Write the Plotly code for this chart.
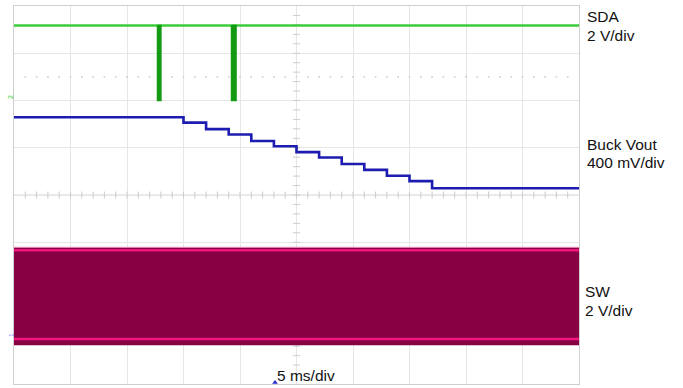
import plotly.graph_objects as go

# ---------------------------------------
# scope settings / data (time in ms, 5 ms/div, 10 div)
# ---------------------------------------

t_end = 50.0

# SDA: 2 V/div, ground at +2.06 div
sda_scale = 2.0
sda_offset = 2.06
sda_high = 3.05
sda_low = -0.12
sda_burst_start = [12.70, 19.25]
sda_burst_end = [13.00, 19.65]

# Buck Vout: 400 mV/div
vout_scale = 0.4
vout_offset = -1.356
vout_step_times = [0.0, 15.0, 17.0, 19.0, 21.0, 23.0, 25.0, 27.0, 29.0, 31.0, 33.0, 35.0, 37.0]
vout_levels = [1.20, 1.155, 1.10, 1.055, 1.00, 0.955, 0.905, 0.86, 0.805, 0.755, 0.705, 0.66, 0.60]

# SW: 2 V/div, ground at -2.98 div
sw_scale = 2.0
sw_offset = -2.98
sw_peak_high = 3.75
sw_high = 3.62
sw_low = -0.14
sw_peak_low = -0.40


def to_div(v, scale, offset):
    return v / scale + offset


fig = go.Figure()

# graticule: center ticks and trigger-level dots
tick_t = [i * 1.0 for i in range(1, 50)]
fig.add_trace(go.Scatter(
    x=tick_t, y=[0] * len(tick_t), mode="markers",
    marker=dict(symbol="line-ns", size=5, line=dict(color="#cccccc", width=1)),
    hoverinfo="skip"
))
tick_y = [i * 0.2 - 4 for i in range(1, 40)]
fig.add_trace(go.Scatter(
    x=[25] * len(tick_y), y=tick_y, mode="markers",
    marker=dict(symbol="line-ew", size=5, line=dict(color="#cccccc", width=1)),
    hoverinfo="skip"
))
fig.add_trace(go.Scatter(
    x=tick_t, y=[2.5] * len(tick_t), mode="markers",
    marker=dict(symbol="square", size=1.6, color="#cfcfcf"),
    hoverinfo="skip"
))

# SW switching band
fig.add_trace(go.Scatter(
    x=[0, t_end], y=[to_div(sw_peak_low, sw_scale, sw_offset)] * 2,
    mode="lines", line=dict(color="#8a0a48", width=0), hoverinfo="skip"
))
fig.add_trace(go.Scatter(
    x=[0, t_end], y=[to_div(sw_peak_high, sw_scale, sw_offset)] * 2,
    mode="lines", line=dict(color="#f2a0c8", width=1),
    fill="tonexty", fillcolor="#880044", hoverinfo="skip"
))
for lvl in [sw_high, sw_low]:
    fig.add_trace(go.Scatter(
        x=[0, t_end], y=[to_div(lvl, sw_scale, sw_offset)] * 2,
        mode="lines", line=dict(color="#f0157f", width=2.5), hoverinfo="skip"
    ))

# Buck Vout staircase
vx = vout_step_times + [t_end]
vy = [to_div(v, vout_scale, vout_offset) for v in vout_levels]
vy = vy + [vy[-1]]
fig.add_trace(go.Scatter(
    x=vx, y=vy, mode="lines", line=dict(color="#1c1cb0", width=2.6, shape="hv"),
    hoverinfo="skip"
))

# SDA
hi = to_div(sda_high, sda_scale, sda_offset)
lo = to_div(sda_low, sda_scale, sda_offset)
fig.add_trace(go.Scatter(
    x=[0, t_end], y=[hi, hi], mode="lines",
    line=dict(color="#3acc3a", width=2.5), hoverinfo="skip"
))
for s, e in zip(sda_burst_start, sda_burst_end):
    fig.add_trace(go.Scatter(
        x=[s, s, e, e, s], y=[hi, lo, lo, hi, hi], mode="lines",
        line=dict(color="#139a13", width=1.5), fill="toself", fillcolor="#139a13",
        hoverinfo="skip"
    ))

# channel markers
fig.add_trace(go.Scatter(
    x=[t_end + 0.25], y=[1.206], mode="markers", cliponaxis=False,
    marker=dict(symbol="triangle-left", size=5, color="#2a2ad0"), hoverinfo="skip"
))
fig.add_trace(go.Scatter(
    x=[23.1], y=[-3.97], mode="markers", cliponaxis=False,
    marker=dict(symbol="triangle-up", size=5, color="#2a2ad0"), hoverinfo="skip"
))

fig.add_shape(type="line", x0=25, x1=25, y0=-4, y1=4, line=dict(color="#d6d6d6", width=1), layer="below")
fig.add_shape(type="line", x0=0, x1=t_end, y0=0, y1=0, line=dict(color="#d6d6d6", width=1), layer="below")

labels = [
    ("SDA", 585, 17),
    ("2 V/div", 585, 35),
    ("Buck Vout", 585, 145),
    ("400 mV/div", 585, 162.5),
    ("SW", 583, 291),
    ("2 V/div", 583, 310),
]
for txt, px, py in labels:
    fig.add_annotation(
        text=txt, xref="paper", yref="paper",
        x=(px - 14) / 565, y=1 - (py - 6) / 378,
        xanchor="left", yanchor="middle", showarrow=False,
        font=dict(size=15.5, color="#111111")
    )
fig.add_annotation(
    text="5 ms/div", xref="paper", yref="paper",
    x=(306 - 14) / 565, y=1 - (375.5 - 6) / 378,
    xanchor="center", yanchor="middle", showarrow=False,
    font=dict(size=15.5, color="#111111")
)
fig.add_annotation(
    text="2", xref="paper", yref="paper", x=(11 - 14) / 565, y=1 - (97 - 6) / 378,
    xanchor="center", yanchor="middle", showarrow=False, textangle=-90,
    font=dict(size=7, color="#33cc33")
)
fig.add_annotation(
    text="1", xref="paper", yref="paper", x=(11 - 14) / 565, y=1 - (335 - 6) / 378,
    xanchor="center", yanchor="middle", showarrow=False, textangle=-90,
    font=dict(size=7, color="#7a7aff")
)

fig.update_layout(
    width=683,
    height=388,
    paper_bgcolor="white",
    plot_bgcolor="white",
    showlegend=False,
    margin=dict(l=14, r=104, t=6, b=4),
    font=dict(family="Liberation Sans, Arial, sans-serif"),
    xaxis=dict(
        range=[0, t_end], dtick=5, tick0=0, showgrid=True, gridcolor="#e6e6e6",
        zeroline=False, showticklabels=False, ticks="",
        showline=True, mirror=True, linecolor="#cfcfcf", linewidth=1
    ),
    yaxis=dict(
        range=[-4, 4], dtick=1, tick0=0, showgrid=True, gridcolor="#e6e6e6",
        zeroline=False, showticklabels=False, ticks="",
        showline=True, mirror=True, linecolor="#cfcfcf", linewidth=1
    ),
)

fig.write_html(
    "out.html",
    config={"displayModeBar": False},
    post_script="document.body.style.margin='0px';"
)
